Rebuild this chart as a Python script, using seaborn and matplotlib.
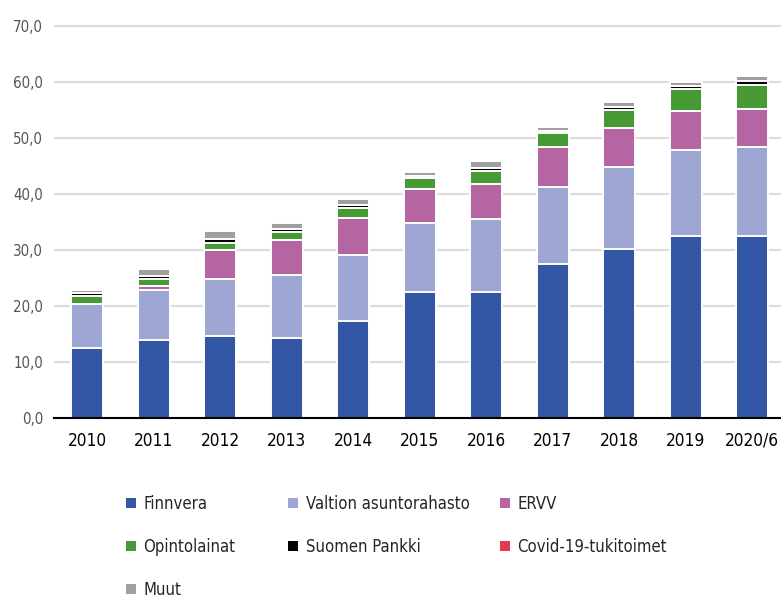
import seaborn as sns
import matplotlib.pyplot as plt
import numpy as np
from matplotlib.patches import Patch

# Data (mrd. euroa)
years = ['2010', '2011', '2012', '2013', '2014', '2015', '2016', '2017', '2018', '2019', '2020/6']
finnvera = [12.5, 13.8, 14.55, 14.3, 17.3, 22.45, 22.4, 27.5, 30.15, 32.4, 32.55]
valtion = [7.9, 9.05, 10.2, 11.15, 11.8, 12.3, 13.05, 13.7, 14.6, 15.4, 15.8]
ervv = [0.0, 0.6, 5.15, 6.3, 6.6, 6.2, 6.25, 7.1, 6.95, 7.0, 6.9]
opinto = [1.3, 1.3, 1.35, 1.4, 1.7, 1.85, 2.35, 2.6, 3.35, 3.95, 4.25]
suomen_pankki = [0.5, 0.5, 0.75, 0.6, 0.55, 0.4, 0.6, 0.4, 0.5, 0.5, 0.6]
covid = [0, 0, 0, 0, 0, 0, 0, 0, 0, 0, 0.1]
muut = [0.7, 1.35, 1.45, 1.05, 1.05, 0.75, 1.2, 0.7, 0.9, 0.8, 0.85]

labels = ['Finnvera', 'Valtion asuntorahasto', 'ERVV', 'Opintolainat',
          'Suomen Pankki', 'Covid-19-tukitoimet', 'Muut']
colors = ['#3457A5', '#9EA6D4', '#B565A2', '#469A33', '#000000', '#E8384F', '#A0A0A0']
series = [finnvera, valtion, ervv, opinto, suomen_pankki, covid, muut]

sns.set_style('white')
plt.rcParams['font.family'] = ['DejaVu Sans']
plt.rcParams['font.stretch'] = 'condensed'

fig = plt.figure(figsize=(7.81, 5.95), dpi=100)
ax = fig.add_axes([54 / 781, 1 - 417.7 / 595, 1 - 54 / 781, 70.5 * 5.596 / 595])

# stacked bars: draw cumulative totals from the top layer down
cum = np.cumsum(np.array(series), axis=0)
for i in range(len(series) - 1, -1, -1):
    sns.barplot(x=years, y=cum[i], color=colors[i], saturation=1, width=0.48,
                edgecolor='white', linewidth=1.4, ax=ax)

ax.set_ylim(0, 70.5)
ax.set_xlim(-0.5, 10.43)
ax.set_yticks(np.arange(0, 71, 10))
ax.set_yticklabels([f'{v:.1f}'.replace('.', ',') for v in range(0, 71, 10)],
                   fontsize=10.8, color='#555555')
ax.set_xticks(range(len(years)))
ax.set_xticklabels(years, fontsize=12.4, color='black')
ax.tick_params(axis='y', length=0, pad=8)
ax.tick_params(axis='x', length=0, pad=10)
ax.set_xlabel('')
ax.set_ylabel('')

ax.set_axisbelow(True)
ax.yaxis.grid(True, color='#DCDCDC', linewidth=1.5)
ax.xaxis.grid(False)
for s in ['top', 'right', 'left']:
    ax.spines[s].set_visible(False)
ax.spines['bottom'].set_color('black')
ax.spines['bottom'].set_linewidth(1.5)

# legend: three separate columns, filled row by row like the original
columns = [([0, 3, 6], 126), ([1, 4], 288), ([2, 5], 500)]
for idx, xpix in columns:
    hs = [Patch(facecolor=colors[k], edgecolor='none') for k in idx]
    fig.legend(hs, [labels[k] for k in idx], loc='upper left',
               bbox_to_anchor=(xpix / 781, 1 - 495 / 595), frameon=False,
               fontsize=12, handlelength=0.6, handleheight=0.6, handletextpad=0.45,
               labelspacing=1.5, borderpad=0, borderaxespad=0)

fig.savefig('out.png', dpi=100)
